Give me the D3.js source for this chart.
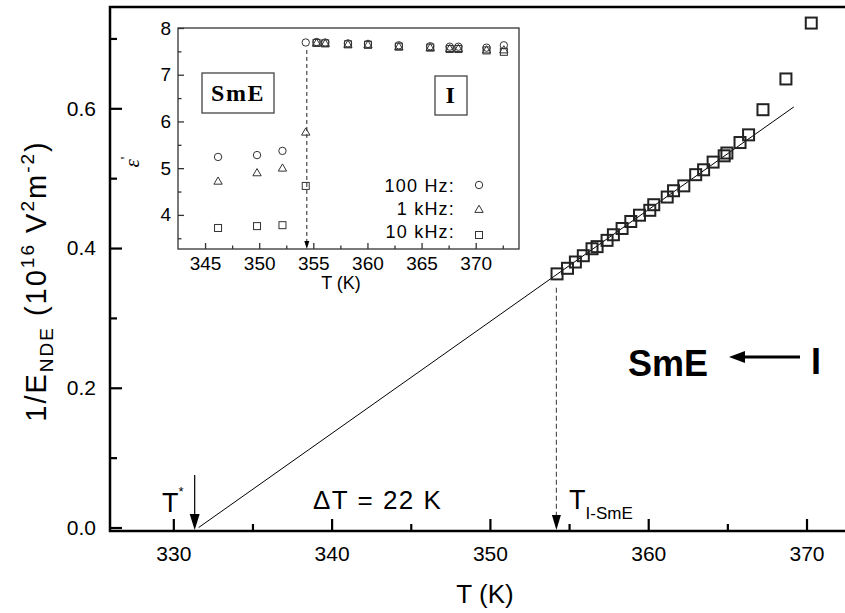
<!DOCTYPE html>
<html>
<head>
<meta charset="utf-8">
<script src="https://cdn.jsdelivr.net/npm/d3@7"></script>
<style>
  body { margin: 0; background: #fff; }
  text { font-family: "Liberation Sans", Arial, Helvetica, sans-serif; fill: #000; white-space: pre; }
</style>
</head>
<body>
<div id="chart"></div>
<script>
var width = 845, height = 613;

// main panel : 1/E_NDE (1e16 V^2 m^-2) against T (K), 10 kHz squares
var mainT    = [354.24, 354.9, 355.4, 355.9, 356.45, 356.77, 357.4, 357.8, 358.35, 358.9,
                359.45, 360.1, 360.35, 361.2, 361.6, 362.25, 363.0, 363.5, 364.1, 364.8,
                364.97, 365.8, 366.34, 367.25, 368.7, 370.3];
var mainInvE = [0.363, 0.371, 0.380, 0.389, 0.399, 0.402, 0.411, 0.419, 0.428, 0.438,
                0.447, 0.454, 0.462, 0.473, 0.482, 0.489, 0.505, 0.512, 0.523, 0.532,
                0.536, 0.551, 0.562, 0.598, 0.642, 0.722];
// straight line fit, extrapolated down to T*
var fitT    = [331.6, 369.2];
var fitInvE = [0, 0.602];
var tStar = 331.35, tISmE = 354.2;

var xTicks = [330, 340, 350, 360, 370];
var xMinor = [335, 345, 355, 365];
var yTicks = [0.0, 0.2, 0.4, 0.6];
var yMinor = [0.1, 0.3, 0.5, 0.7];

// inset : eps' against T for three frequencies
var insetT   = [346.2, 349.8, 352.15, 354.3, 355.3, 356.1, 358.2, 360.05, 362.9, 365.8, 367.6, 368.4, 371.0, 372.6];
var eps100Hz = [5.24, 5.28, 5.37, 7.69, 7.70, 7.69, 7.67, 7.66, 7.63, 7.61, 7.60, 7.60, 7.58, 7.63];
var eps1kHz  = [4.73, 4.91, 5.01, 5.78, 7.69, 7.68, 7.66, 7.65, 7.61, 7.59, 7.57, 7.57, 7.54, 7.54];
var eps10kHz = [3.72, 3.76, 3.78, 4.62, 7.68, 7.67, 7.65, 7.64, 7.60, 7.58, 7.55, 7.55, 7.52, 7.49];
var insetXTicks = [345, 350, 355, 360, 365, 370];
var insetXMinor = [347.5, 352.5, 357.5, 362.5, 367.5, 372.5];
var insetYTicks = [4, 5, 6, 7, 8];
var insetYMinor = [3.5, 4.5, 5.5, 6.5, 7.5];
var legendLabels = ["100 Hz:", "1 kHz:", "10 kHz:"];
var tInset = 354.4;

var svg = d3.select("#chart").append("svg")
    .attr("width", width)
    .attr("height", height);

// ---------- main panel ----------
var x = d3.scaleLinear().domain([326, 373]).range([110, 854]);
var y = d3.scaleLinear().domain([-0.005, 0.745]).range([531, 7]);

var xAxis = svg.append("g")
    .attr("transform", "translate(0," + y.range()[0] + ")")
    .call(d3.axisBottom(x).tickValues(xTicks).tickSizeInner(-12).tickSizeOuter(0)
      .tickPadding(15).tickFormat(d3.format("d")));
svg.append("g")
    .attr("transform", "translate(0," + y.range()[0] + ")")
    .call(d3.axisBottom(x).tickValues(xMinor).tickSize(-7).tickFormat(""));

var yAxis = svg.append("g")
    .attr("transform", "translate(" + x.range()[0] + ",0)")
    .call(d3.axisLeft(y).tickValues(yTicks).tickSizeInner(-12).tickSizeOuter(0)
      .tickPadding(14).tickFormat(d3.format(".1f")));
svg.append("g")
    .attr("transform", "translate(" + x.range()[0] + ",0)")
    .call(d3.axisLeft(y).tickValues(yMinor).tickSize(-7).tickFormat(""));

svg.selectAll(".domain").remove();
svg.selectAll(".tick line").attr("stroke", "#000").attr("stroke-width", 2.2);
xAxis.selectAll("text").style("font-size", "21px").attr("fill", "#000");
yAxis.selectAll("text").style("font-size", "21px").attr("fill", "#000");

// frame (left, top, bottom)
svg.append("path")
    .attr("d", "M" + width + "," + y.range()[1] + "H" + x.range()[0] + "V" + y.range()[0] + "H" + width)
    .attr("fill", "none")
    .attr("stroke", "#000")
    .attr("stroke-width", 2.5);

// fit line
svg.append("path")
    .datum(d3.range(fitT.length))
    .attr("d", d3.line().x(function(i) { return x(fitT[i]); }).y(function(i) { return y(fitInvE[i]); }))
    .attr("fill", "none")
    .attr("stroke", "#000")
    .attr("stroke-width", 1);

// data squares
var sq = 11;
svg.selectAll(".msq")
    .data(d3.range(mainT.length))
  .enter().append("rect")
    .attr("class", "msq")
    .attr("x", function(i) { return x(mainT[i]) - sq / 2; })
    .attr("y", function(i) { return y(mainInvE[i]) - sq / 2; })
    .attr("width", sq)
    .attr("height", sq)
    .attr("fill", "none")
    .attr("stroke", "#222")
    .attr("stroke-width", 2);

// arrows to the axis
function arrowHead(g, px, py, w, h) {
  g.append("path")
    .attr("d", "M" + px + "," + py + "l" + (-w / 2) + "," + (-h) + "h" + w + "z")
    .attr("fill", "#000");
}
svg.append("line")
    .attr("x1", x(tStar)).attr("x2", x(tStar))
    .attr("y1", y(0.075)).attr("y2", y(0) - 8)
    .attr("stroke", "#000").attr("stroke-width", 1.2);
arrowHead(svg, x(tStar), y.range()[0] - 1, 10, 16);

svg.append("line")
    .attr("x1", x(tISmE)).attr("x2", x(tISmE))
    .attr("y1", y(0.343)).attr("y2", y(0) - 8)
    .attr("stroke", "#555").attr("stroke-width", 1.2)
    .attr("stroke-dasharray", "5,3");
arrowHead(svg, x(tISmE), y.range()[0] - 1, 9, 15);

// annotations
var tsLab = svg.append("text").attr("x", 162).attr("y", 512).style("font-size", "27px");
tsLab.append("tspan").text("T");
tsLab.append("tspan").attr("dy", -16).style("font-size", "13px").text("*");

svg.append("text").attr("x", 313).attr("y", 509)
    .style("font-size", "26px").style("letter-spacing", "1.5px")
    .text("\u0394T = 22 K");

var tiLab = svg.append("text").attr("x", 569).attr("y", 509).style("font-size", "27px");
tiLab.append("tspan").text("T");
tiLab.append("tspan").attr("dy", 10).style("font-size", "17px").text("I-SmE");

svg.append("text").attr("x", 628).attr("y", 376)
    .style("font-size", "36px").style("font-weight", "bold").text("SmE");
svg.append("text").attr("x", 811).attr("y", 374)
    .style("font-size", "36px").style("font-weight", "bold").text("I");
svg.append("line")
    .attr("x1", 800).attr("x2", 742).attr("y1", 357).attr("y2", 357)
    .attr("stroke", "#000").attr("stroke-width", 3);
svg.append("path")
    .attr("d", "M729,357l16,-6v12z")
    .attr("fill", "#000");

// axis titles
svg.append("text")
    .attr("x", 485).attr("y", 603)
    .attr("text-anchor", "middle")
    .style("font-size", "26px")
    .text("T (K)");

var yt = svg.append("text")
    .attr("transform", "translate(46,281) rotate(-90)")
    .attr("text-anchor", "middle")
    .style("font-size", "29px")
    .style("letter-spacing", "2px");
yt.append("tspan").text("1/E");
yt.append("tspan").attr("dy", 7).style("font-size", "19px").text("NDE");
yt.append("tspan").attr("dy", -7).text(" (10");
yt.append("tspan").attr("dy", -12).style("font-size", "19px").text("16");
yt.append("tspan").attr("dy", 12).text(" V");
yt.append("tspan").attr("dy", -12).style("font-size", "19px").text("2");
yt.append("tspan").attr("dy", 12).text("m");
yt.append("tspan").attr("dy", -12).style("font-size", "19px").text("-2");
yt.append("tspan").attr("dy", 12).text(")");

// ---------- inset ----------
var ix = d3.scaleLinear().domain([342.5, 374]).range([178, 519]);
var iy = d3.scaleLinear().domain([3.27, 8]).range([249, 28]);
var inset = svg.append("g");

inset.append("rect")
    .attr("x", ix.range()[0]).attr("y", iy.range()[1])
    .attr("width", ix.range()[1] - ix.range()[0])
    .attr("height", iy.range()[0] - iy.range()[1])
    .attr("fill", "#fff")
    .attr("stroke", "#333")
    .attr("stroke-width", 1.3);

var ixAxis = inset.append("g")
    .attr("transform", "translate(0," + iy.range()[0] + ")")
    .call(d3.axisBottom(ix).tickValues(insetXTicks).tickSizeInner(-6).tickSizeOuter(0)
      .tickPadding(8).tickFormat(d3.format("d")));
inset.append("g")
    .attr("transform", "translate(0," + iy.range()[0] + ")")
    .call(d3.axisBottom(ix).tickValues(insetXMinor).tickSize(-3.5).tickFormat(""));
var iyAxis = inset.append("g")
    .attr("transform", "translate(" + ix.range()[0] + ",0)")
    .call(d3.axisLeft(iy).tickValues(insetYTicks).tickSizeInner(-6).tickSizeOuter(0)
      .tickPadding(7).tickFormat(d3.format("d")));
inset.append("g")
    .attr("transform", "translate(" + ix.range()[0] + ",0)")
    .call(d3.axisLeft(iy).tickValues(insetYMinor).tickSize(-3.5).tickFormat(""));
inset.selectAll(".domain").remove();
inset.selectAll(".tick line").attr("stroke", "#333").attr("stroke-width", 1.3);
ixAxis.selectAll("text").style("font-size", "19px").attr("fill", "#000");
iyAxis.selectAll("text").style("font-size", "19px").attr("fill", "#000");

inset.append("text")
    .attr("x", 341).attr("y", 289)
    .attr("text-anchor", "middle")
    .style("font-size", "18px")
    .text("T (K)");

var el = inset.append("text")
    .attr("transform", "translate(139,162) rotate(-90)")
    .attr("text-anchor", "middle")
    .style("font-family", "'Liberation Serif', 'Times New Roman', serif")
    .style("font-style", "italic")
    .style("font-size", "21px");
el.append("tspan").text("\u03b5");
el.append("tspan").attr("dy", -8).style("font-style", "normal").style("font-size", "15px").text("'");

// dashed transition marker in the inset
inset.append("line")
    .attr("x1", ix(tInset)).attr("x2", ix(tInset))
    .attr("y1", iy(7.53)).attr("y2", iy.range()[0] - 5)
    .attr("stroke", "#222").attr("stroke-width", 1)
    .attr("stroke-dasharray", "4,3");
arrowHead(inset, ix(tInset), iy.range()[0], 5, 8);

// phase boxes
function phaseBox(bx, by, bw, bh, label, tx, ty) {
  inset.append("rect")
    .attr("x", bx).attr("y", by).attr("width", bw).attr("height", bh)
    .attr("fill", "#fff").attr("stroke", "#444").attr("stroke-width", 1.3);
  inset.append("text")
    .attr("x", tx).attr("y", ty)
    .attr("text-anchor", "middle")
    .style("font-family", "'Liberation Serif', 'Times New Roman', serif")
    .style("font-weight", "bold")
    .style("font-size", "24px")
    .style("letter-spacing", "1.5px")
    .text(label);
}
phaseBox(202, 73, 72, 40, "SmE", 238, 101);
phaseBox(435, 76, 32, 39, "I", 451, 103);

// inset symbols
var mStroke = "#333";
function circles(vals) {
  inset.selectAll(null).data(d3.range(insetT.length)).enter().append("circle")
    .attr("cx", function(i) { return ix(insetT[i]); })
    .attr("cy", function(i) { return iy(vals[i]); })
    .attr("r", 3.7)
    .attr("fill", "none").attr("stroke", mStroke).attr("stroke-width", 1);
}
function triangles(vals) {
  inset.selectAll(null).data(d3.range(insetT.length)).enter().append("path")
    .attr("d", d3.symbol(d3.symbolTriangle, 30))
    .attr("transform", function(i) { return "translate(" + ix(insetT[i]) + "," + (iy(vals[i]) + 1) + ")"; })
    .attr("fill", "none").attr("stroke", mStroke).attr("stroke-width", 1);
}
function squares(vals) {
  inset.selectAll(null).data(d3.range(insetT.length)).enter().append("rect")
    .attr("x", function(i) { return ix(insetT[i]) - 3.5; })
    .attr("y", function(i) { return iy(vals[i]) - 3.5; })
    .attr("width", 7).attr("height", 7)
    .attr("fill", "none").attr("stroke", mStroke).attr("stroke-width", 1);
}
circles(eps100Hz);
triangles(eps1kHz);
squares(eps10kHz);

// legend
var legY = [192, 215, 238];
legendLabels.forEach(function(lab, k) {
  inset.append("text")
    .attr("x", 455).attr("y", legY[k])
    .attr("text-anchor", "end")
    .style("font-size", "18px")
    .style("letter-spacing", "1.2px")
    .text(lab);
});
inset.append("circle").attr("cx", 479).attr("cy", 185).attr("r", 3.7)
    .attr("fill", "none").attr("stroke", mStroke);
inset.append("path").attr("d", d3.symbol(d3.symbolTriangle, 30))
    .attr("transform", "translate(479,210)")
    .attr("fill", "none").attr("stroke", mStroke);
inset.append("rect").attr("x", 475.5).attr("y", 231.5).attr("width", 7).attr("height", 7)
    .attr("fill", "none").attr("stroke", mStroke);
</script>
</body>
</html>
